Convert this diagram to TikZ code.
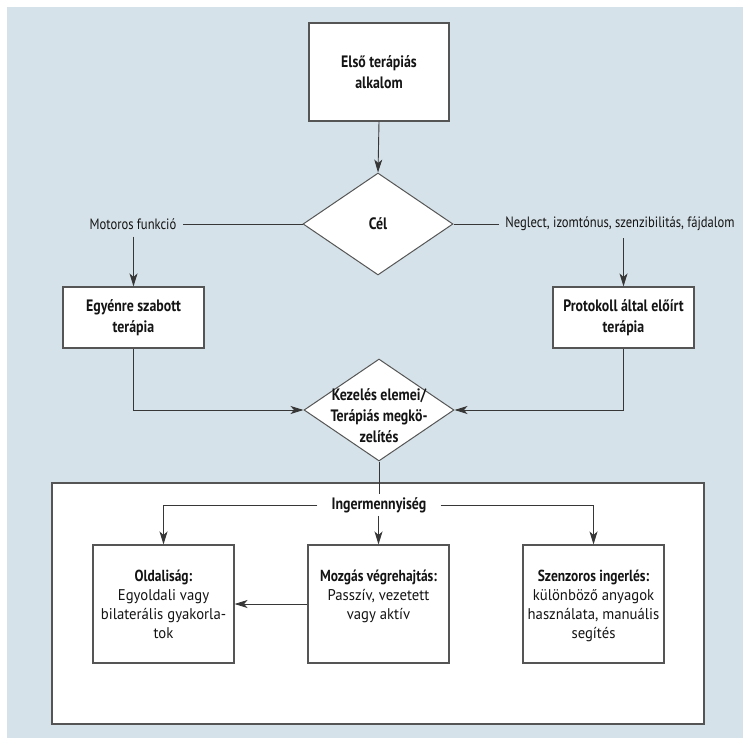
\documentclass[tikz,border=0pt]{standalone}
\usepackage{fontspec}
\setmainfont{PT Sans}
\newfontfamily\condfont[FakeStretch=0.84]{PT Sans}
\newfontfamily\bodyfont[FakeStretch=0.95]{PT Sans}
\usetikzlibrary{shapes.geometric,arrows.meta}
\definecolor{bg}{RGB}{214,226,233}
\definecolor{ln}{RGB}{55,55,55}
\definecolor{bx}{RGB}{85,85,85}
\definecolor{tx}{RGB}{20,20,20}
\newcommand{\boxtext}[2]{\parbox[c][118pt][t]{139pt}{\centering\vspace*{25pt}{\condfont\bfseries\fontsize{16}{19}\selectfont #1}\\#2}}
\begin{document}
\begin{tikzpicture}[x=1pt,y=-1pt,
  box/.style={draw=bx, line width=1.1pt, fill=white, inner sep=0pt},
  dia/.style={diamond, draw=bx, line width=1pt, fill=white, minimum width=150pt, minimum height=102pt, inner sep=0pt},
  hb/.style={font=\condfont\bfseries\fontsize{16.5}{21}\selectfont, align=center, text=tx},
  lab/.style={font=\condfont\fontsize{15}{18}\selectfont, text=tx, inner xsep=6pt, inner ysep=7pt},
  body/.style={font=\bodyfont\fontsize{15.5}{19}\selectfont, text=tx},
  con/.style={draw=ln, line width=0.9pt},
  arr/.style={con, -{Stealth[length=13pt,width=8pt,inset=3.5pt]}}
]
\useasboundingbox (0,0) rectangle (743,738);
\fill[white] (0,0) rectangle (743,738);
\fill[bg] (7,7) rectangle (743,738);

\node[box, hb, minimum width=140pt, minimum height=98pt] (first) at (379,72) {Első terápiás\\alkalom};
\node[dia, hb] (cel) at (378,224) {Cél};
\draw[arr] (first.south) -- (cel.north);

\node[lab] (mot) at (133,224) {Motoros funkció};
\node[lab] (neg) at (620,224) {Neglect, izomtónus, szenzibilitás, fájdalom};
\draw[con] (cel.west) -- (mot.east);
\draw[con] (cel.east) -- (neg.west);

\node[box, hb, minimum width=141pt, minimum height=61pt] (ego) at (133.5,317.5) {Egyénre szabott\\terápia};
\node[box, hb, minimum width=141pt, minimum height=61pt] (prot) at (623.5,317.5) {Protokoll által előírt\\terápia};
\draw[arr] (mot.south -| ego.north) -- (ego.north);
\draw[arr] (neg.south -| prot.north) -- (prot.north);

\node[dia] (kez) at (379,410) {};
\node[hb] (keztext) at (379,416) {Kezelés elemei/\\Terápiás megkö-\\zelítés};
\draw[arr] (ego.south) |- (kez.west);
\draw[arr] (prot.south) |- (kez.east);

\node[box, minimum width=652pt, minimum height=241pt] (panel) at (378,603.5) {};
\node[hb, inner xsep=14pt, inner ysep=3pt] (ing) at (379,505) {Ingermennyiség};
\draw[con] (kez.south) -- (ing.north);

\node[box, body, minimum width=141pt, minimum height=118pt] (old) at (163.5,604) {\boxtext{Oldaliság:}{Egyoldali vagy\\bilaterális gyakorla-\\tok}};
\node[box, body, minimum width=141pt, minimum height=118pt] (mid) at (378.5,604) {\boxtext{Mozgás végrehajtás:}{Passzív, vezetett\\vagy aktív}};
\node[box, body, minimum width=141pt, minimum height=118pt] (szen) at (593.5,604) {\boxtext{Szenzoros ingerlés:}{különböző anyagok\\használata, manuális\\segítés}};

\draw[arr] (ing.west) -| (old.north);
\draw[arr] (ing.east) -| (szen.north);
\draw[arr] (ing.south -| mid.north) -- (mid.north);
\draw[arr] (mid.west) -- (old.east);
\end{tikzpicture}
\end{document}
